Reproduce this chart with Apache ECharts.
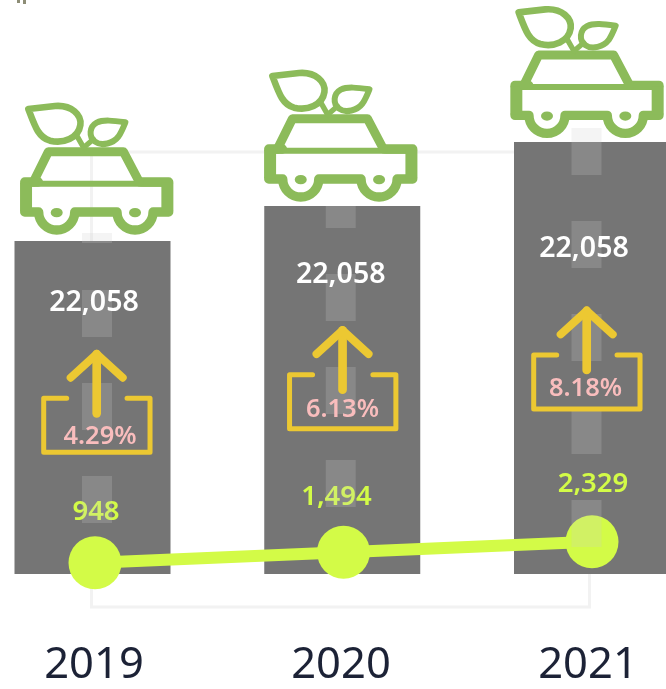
<!DOCTYPE html>
<html>
<head>
<meta charset="utf-8">
<style>html,body{margin:0;padding:0;background:#fff}#c{width:666px;height:689px}</style>
<script src="https://cdn.jsdelivr.net/npm/echarts@6/dist/echarts.min.js"></script>
</head>
<body>
<div id="c"></div>
<script>
// ---- data ----
var years = ['2019', '2020', '2021'];
var roadHeight = [333, 368, 432];
var totalValues = [22058, 22058, 22058];
var lineValues = [948, 1494, 2329];
var percentLabels = ['4.29%', '6.13%', '8.18%'];
var dashes2019 = [[51, 98], [144, 191], [237, 284], [331, 341]];
var dashes2020 = [[67, 114], [160, 207], [253, 300], [346, 368]];
var dashes2021 = [[27, 74], [120, 167], [213, 260], [306, 353], [399, 446]];

// ---- layout of the decorations, relative to each road's top centre ----
var carShift = [[4.2, -1], [-1.5, 1], [-5, 1.4]];
var boxShift = [[4.2, 89], [0.3, 100.3], [-5.3, 144.7]];
var totalShift = [[1.5, 61.5], [-1.5, 68.5], [-8, 106.5]];
var percentShift = [[7.5, 195.5], [0.2, 203.5], [-6.5, 246.5]];
var dashShift = [4.5, -1.5, -5.5];
var lineLabelShift = [[1, -50.5], [-7, -55], [1, -57.5]];

var GREEN = '#8CBB5A', YELLOW = '#ECC832', PINK = '#F9BDBD', LIME = '#D3FB47';
var FONT = '"Noto Sans", sans-serif';

function pathEl(d, style) {
  var b = echarts.graphic.makePath(d).getBoundingRect();
  return {
    type: 'path',
    shape: { pathData: d, x: b.x, y: b.y, width: b.width, height: b.height },
    style: style
  };
}
function lineEl(x1, y1, x2, y2, style) {
  return { type: 'line', shape: { x1: x1, y1: y1, x2: x2, y2: y2 }, style: style };
}
function strokeStyle(color, w, cap) {
  return { fill: 'none', stroke: color, lineWidth: w, lineCap: cap || 'round', lineJoin: 'round' };
}
function fitIcon(x, y, ox, oy, children) {
  return { type: 'group', x: x - ox / 3, y: y - oy / 3, scaleX: 1 / 3, scaleY: 1 / 3, children: children };
}
function carParts() {
  return [
    pathEl('M74 366 H116 A52 52 0 0 0 224 366 H351 A52 52 0 0 0 459 366 H506', strokeStyle(GREEN, 28)),
    lineEl(78, 281, 502, 281, strokeStyle(GREEN, 18)),
    lineEl(74, 276, 115, 276, strokeStyle(GREEN, 28)),
    lineEl(425, 276, 506, 276, strokeStyle(GREEN, 28)),
    lineEl(78, 278, 78, 364, strokeStyle(GREEN, 36, 'butt')),
    lineEl(502, 278, 502, 364, strokeStyle(GREEN, 36, 'butt')),
    pathEl('M100 276 L145 185 H370 L418 276', strokeStyle(GREEN, 27)),
    pathEl('M152 368 A18 14 0 1 0 188 368 A18 14 0 1 0 152 368 Z', { fill: GREEN }),
    pathEl('M387 368 A18 14 0 1 0 423 368 A18 14 0 1 0 387 368 Z', { fill: GREEN }),
    pathEl('M85 57 L165 48 C215 44 245 75 241 105 C235 145 190 162 150 152 C115 142 105 110 85 57 Z', strokeStyle(GREEN, 20)),
    pathEl('M376 97 C340 92 310 88 290 98 C268 110 265 140 285 155 C305 170 340 160 355 140 C365 125 370 112 376 97 Z', strokeStyle(GREEN, 18)),
    lineEl(232, 140, 252, 175, strokeStyle(GREEN, 16)),
    lineEl(252, 172, 280, 148, strokeStyle(GREEN, 16))
  ];
}
function boxParts() {
  return [
    pathEl('M200 205 H131 V367 H450 V205 H381', strokeStyle(YELLOW, 15)),
    lineEl(290, 250, 290, 72, strokeStyle(YELLOW, 26)),
    pathEl('M212 143 L290 72 L368 143', strokeStyle(YELLOW, 24))
  ];
}
function textEl(x, y, str, size, color, weight) {
  return {
    type: 'text', x: x, y: y,
    style: { text: str, fill: color, font: weight + ' ' + size + 'px ' + FONT, align: 'center', verticalAlign: 'middle' }
  };
}

var dashRows = [];
[dashes2019, dashes2020, dashes2021].forEach(function (list, i) {
  list.forEach(function (d) { dashRows.push([i, d[0], d[1]]); });
});

var option = {
  animation: false,
  backgroundColor: '#fff',
  graphic: [
    { type: 'rect', shape: { x: 17, y: 0, width: 3, height: 3 }, style: { fill: '#8d8d76' } },
    { type: 'rect', shape: { x: 23, y: 0, width: 3, height: 4 }, style: { fill: '#8d8d76' } }
  ],
  grid: [
    { left: 92.5, top: 0, width: 499.5, height: 574 },
    { left: 95, top: 400.2, width: 497, height: 215.2 },
    { left: 91.5, top: 152, width: 498, height: 455, show: true, borderColor: '#f2f2f2', borderWidth: 3, backgroundColor: 'transparent' },
    { left: 94, top: 600, width: 494, height: 20 }
  ],
  xAxis: [
    { type: 'category', gridIndex: 0, data: years, show: false, boundaryGap: false },
    { type: 'category', gridIndex: 1, data: years, show: false, boundaryGap: false },
    {
      type: 'category', gridIndex: 3, data: years, boundaryGap: false,
      axisLine: { show: false }, axisTick: { show: false },
      axisLabel: { show: true, interval: 0, margin: 24, fontFamily: FONT, fontSize: 43.5, color: '#1c2236', hideOverlap: false, alignMinLabel: 'center', alignMaxLabel: 'center' }
    }
  ],
  yAxis: [
    { type: 'value', gridIndex: 0, min: 0, max: 574, show: false },
    { type: 'log', gridIndex: 1, min: 100, max: 1000000, show: false },
    { type: 'value', gridIndex: 3, min: 0, max: 1, show: false }
  ],
  series: [
    {
      type: 'bar', name: 'road', xAxisIndex: 0, yAxisIndex: 0, data: roadHeight, clip: false,
      barWidth: 156, itemStyle: { color: '#757575' }, z: 2, silent: true
    },
    {
      type: 'line', name: 'line', xAxisIndex: 1, yAxisIndex: 1, clip: false,
      data: lineValues.map(function (v, i) {
        return {
          value: v,
          label: { offset: lineLabelShift[i] }
        };
      }),
      symbol: 'circle', symbolSize: 53, showSymbol: true,
      lineStyle: { color: LIME, width: 12 }, itemStyle: { color: LIME },
      label: {
        show: true, position: 'inside', fontFamily: FONT, fontSize: 27.5, fontWeight: 600, color: LIME,
        formatter: function (p) { return Number(lineValues[p.dataIndex]).toLocaleString('en-US'); }
      },
      z: 3, silent: true
    },
    {
      type: 'custom', name: 'dashes', xAxisIndex: 0, yAxisIndex: 0, data: dashRows, z: 4, silent: true,
      encode: { x: 0, y: [1, 2] },
      renderItem: function (params, api) {
        var i = api.value(0);
        var a = api.coord([i, api.value(1)]);
        var b = api.coord([i, api.value(2)]);
        return {
          type: 'rect',
          shape: { x: a[0] + dashShift[i] - 15, y: b[1], width: 30, height: a[1] - b[1] },
          style: { fill: 'rgba(204,204,204,0.22)' }
        };
      }
    },
    {
      type: 'custom', name: 'icons', xAxisIndex: 0, yAxisIndex: 0, z: 5, silent: true,
      data: roadHeight.map(function (h, i) { return [i, h]; }),
      encode: { x: 0, y: 1 },
      renderItem: function (params, api) {
        var i = api.value(0);
        var top = api.coord([i, api.value(1)]);
        return {
          type: 'group',
          children: [
            fitIcon(top[0] + carShift[i][0], top[1] + carShift[i][1], 290, 450, carParts()),
            fitIcon(top[0] + boxShift[i][0], top[1] + boxShift[i][1], 290, 0, boxParts()),
            textEl(top[0] + totalShift[i][0], top[1] + totalShift[i][1], totalValues[i].toLocaleString('en-US'), 28.5, '#ffffff', 600),
            textEl(top[0] + percentShift[i][0], top[1] + percentShift[i][1], percentLabels[i], 25.5, PINK, 600)
          ]
        };
      }
    }
  ]
};
var chart = echarts.init(document.getElementById('c'), null, { renderer: 'canvas', width: 666, height: 689 });
chart.setOption(option);
</script>
</body>
</html>
